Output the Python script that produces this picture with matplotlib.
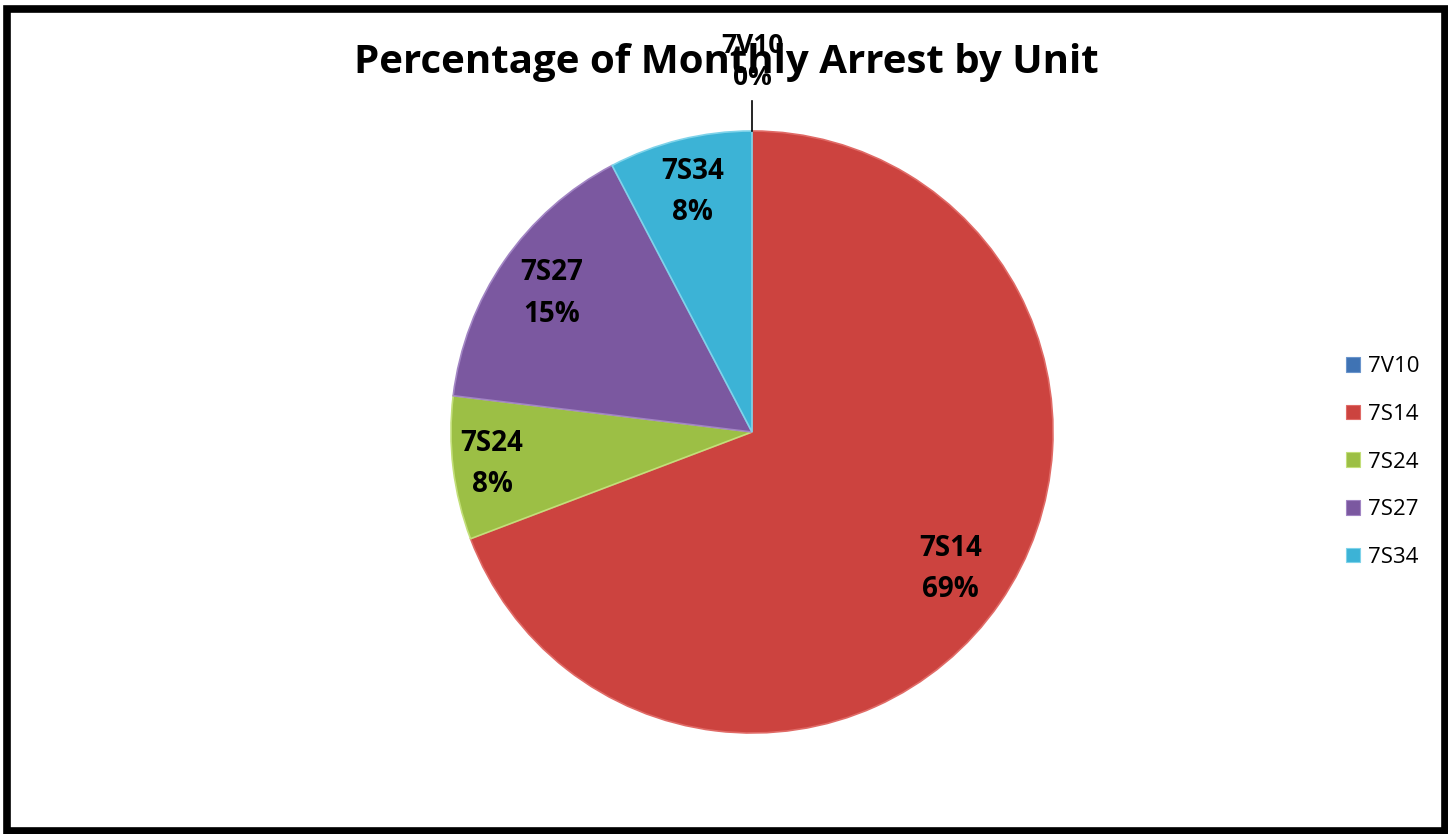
import numpy as np
import matplotlib.pyplot as plt
from matplotlib.patches import Patch, Rectangle

units = ['7V10', '7S14', '7S24', '7S27', '7S34']
arrests = [0, 9, 1, 2, 1]
colors = ['#3f73b4', '#cc433f', '#9cbf45', '#7b58a0', '#3cb3d6']
edges = ['#6a95cc', '#e06a66', '#c3df7a', '#a285c4', '#7fd3ea']
label_r = [1.23, 0.80, 0.87, 0.81, 0.82]

plt.rcParams['font.family'] = ['Open Sans', 'DejaVu Sans']

fig = plt.figure(figsize=(14.48, 8.34), dpi=100)

# pie axes: center (752, 432) px, radius ~301 px
ax = fig.add_axes([(752 - 301) / 1448, (834 - 733) / 834, 602 / 1448, 602 / 834])
wedges, _ = ax.pie(arrests, colors=colors, startangle=90, counterclock=False,
                   radius=1.0, wedgeprops=dict(linewidth=1.2))
for w, ec in zip(wedges, edges):
    w.set_edgecolor(ec)
ax.set_xlim(-1, 1)
ax.set_ylim(-1, 1)
ax.set_aspect('auto')
ax.axis('off')

total = sum(arrests)
theta = 90.0
for name, v, r in zip(units, arrests, label_r):
    span = 360.0 * v / total
    mid = np.deg2rad(theta - span / 2)
    theta -= span
    pct = f'{round(100 * v / total)}%'
    x, y = r * np.cos(mid), r * np.sin(mid)
    if v == 0:
        ax.plot([0, 0], [1.0, 1.1], color='black', lw=1.2, clip_on=False)
        ax.text(x, y, f'{name}\n{pct}', ha='center', va='center', fontsize=19,
                fontweight='bold', linespacing=1.25, clip_on=False, zorder=5)
    else:
        ax.text(x, y, f'{name}\n{pct}', ha='center', va='center', fontsize=20,
                fontweight='bold', linespacing=1.55)

fig.text(726 / 1448, 1 - 62 / 834, 'Percentage of Monthly Arrest by Unit',
         ha='center', va='center', fontsize=29, fontweight='bold')

handles = [Patch(facecolor=c, edgecolor=e, lw=0.8) for c, e in zip(colors, edges)]
fig.legend(handles, units, loc='center left', bbox_to_anchor=(1326 / 1448, 1 - 462 / 834),
           frameon=False, fontsize=16, handlelength=0.65, handleheight=0.65,
           handletextpad=0.35, labelspacing=1.2)

fig.patches.append(Rectangle((7 / 1448, 3 / 834), 1438 / 1448, 822 / 834,
                             transform=fig.transFigure, fill=False,
                             edgecolor='black', lw=5.5))

fig.savefig('out.png', dpi=100)
